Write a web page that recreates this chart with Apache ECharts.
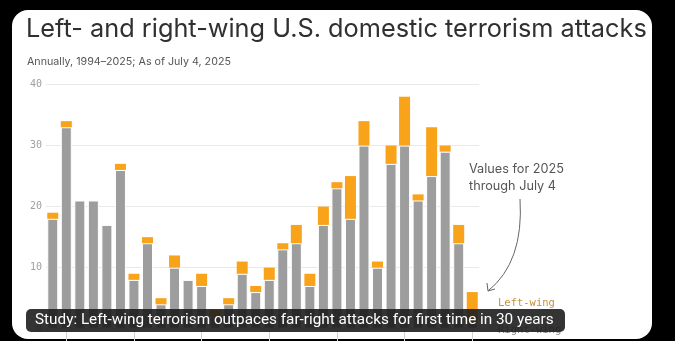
<!DOCTYPE html>
<html>
<head>
<meta charset="utf-8">
<script src="https://cdn.jsdelivr.net/npm/echarts@6/dist/echarts.min.js"></script>
<style>
  html, body { margin: 0; padding: 0; background: #000; }
  #chart { width: 675px; height: 341px; }
</style>
</head>
<body>
<div id="chart"></div>
<script>
// Attacks per year, split by ideology
const years = [
  1994, 1995, 1996, 1997, 1998, 1999, 2000, 2001, 2002, 2003, 2004,
  2005, 2006, 2007, 2008, 2009, 2010, 2011, 2012, 2013, 2014, 2015,
  2016, 2017, 2018, 2019, 2020, 2021, 2022, 2023, 2024, 2025
];
const rightWing = [
  18, 33, 21, 21, 17, 26, 8, 14, 4, 10, 8,
  7, 2, 4, 9, 6, 8, 13, 14, 7, 17, 23,
  18, 30, 10, 27, 30, 21, 25, 29, 14, 1
];
const leftWing = [
  1, 1, 0, 0, 0, 1, 1, 1, 1, 2, 0,
  2, 1, 1, 2, 1, 2, 1, 3, 2, 3, 1,
  7, 4, 1, 3, 8, 1, 8, 1, 3, 5
];
const yTicks = [0, 10, 20, 30, 40];

const titleText = 'Left- and right-wing U.S. domestic terrorism attacks';
const subtitleText = 'Annually, 1994\u20132025; As of July 4, 2025';
const noteText = 'Values for 2025\nthrough July 4';
const captionText = 'Study: Left-wing terrorism outpaces far-right attacks for first time in 30 years';

const GRAY = '#9d9d9d';
const ORANGE = '#f9a31b';

const chart = echarts.init(document.getElementById('chart'), null, { renderer: 'canvas' });

const everyFifth = (i) => years[i] % 5 === 0;

chart.setOption({
  backgroundColor: '#000',
  animation: false,
  grid: { left: 46, top: 84.5, width: 433, height: 244.2, containLabel: false, outerBoundsMode: 'none' },
  xAxis: {
    type: 'category',
    data: years.map(String),
    axisLine: { show: true, lineStyle: { color: '#cfcfcf' } },
    axisTick: { show: true, alignWithLabel: true, interval: everyFifth, length: 14, lineStyle: { color: '#d4d4d4' } },
    axisLabel: { interval: everyFifth, color: '#999', fontFamily: 'DejaVu Sans Mono', fontSize: 10, margin: 16 }
  },
  yAxis: {
    type: 'value',
    min: yTicks[0],
    max: yTicks[yTicks.length - 1],
    interval: 10,
    axisLine: { show: false },
    axisTick: { show: false },
    splitLine: { lineStyle: { color: '#e9e9e9', width: 1 } },
    axisLabel: { color: '#a0a0a0', fontFamily: 'DejaVu Sans Mono', fontSize: 10, margin: 4 }
  },
  series: [
    {
      name: 'Right-wing',
      type: 'bar',
      stack: 'attacks',
      data: rightWing,
      barWidth: 11,
      itemStyle: { color: GRAY, borderColor: '#fff', borderWidth: 1 }
    },
    {
      name: 'Left-wing',
      type: 'bar',
      stack: 'attacks',
      data: leftWing,
      barWidth: 11,
      itemStyle: { color: ORANGE }
    }
  ],
  graphic: [
    // white card
    { type: 'rect', z: -100, shape: { x: 12, y: 10, width: 640, height: 329, r: 16 }, style: { fill: '#fff' } },
    { type: 'text', z: 10, style: { x: 26, y: 17, text: titleText, fill: '#303030', font: '400 25.3px Inter', textVerticalAlign: 'top' } },
    { type: 'text', z: 10, style: { x: 27, y: 56, text: subtitleText, fill: '#555', font: '400 10.7px Inter', textVerticalAlign: 'top' } },
    // note with arrow pointing to 2025
    { type: 'text', z: 10, style: { x: 469, y: 161, text: noteText, fill: '#555', font: '400 12.7px Inter', lineHeight: 17, textVerticalAlign: 'top' } },
    { type: 'bezierCurve', z: 10, shape: { x1: 520, y1: 199, x2: 488, y2: 291, cpx1: 524, cpy1: 262 }, style: { stroke: '#666', lineWidth: 1, fill: null } },
    { type: 'polyline', z: 10, shape: { points: [[487, 283], [488, 291], [495, 289]] }, style: { stroke: '#666', lineWidth: 1, fill: null } },
    // series labels
    { type: 'text', z: 10, style: { x: 498, y: 298, text: 'Left-wing', fill: '#c8913a', font: '400 10.5px "DejaVu Sans Mono"', textVerticalAlign: 'top' } },
    { type: 'text', z: 10, style: { x: 498, y: 325, text: 'Right-wing', fill: '#8a8a8a', font: '400 10.5px "DejaVu Sans Mono"', textVerticalAlign: 'top' } },
    // headline banner
    { type: 'rect', z: 100, shape: { x: 26, y: 309, width: 539, height: 23, r: 5 }, style: { fill: 'rgba(30,30,30,0.9)' } },
    { type: 'text', z: 101, style: { x: 35, y: 320.5, text: captionText, fill: '#fff', font: '400 15.3px Roboto', textVerticalAlign: 'middle' } }
  ]
});
</script>
</body>
</html>
